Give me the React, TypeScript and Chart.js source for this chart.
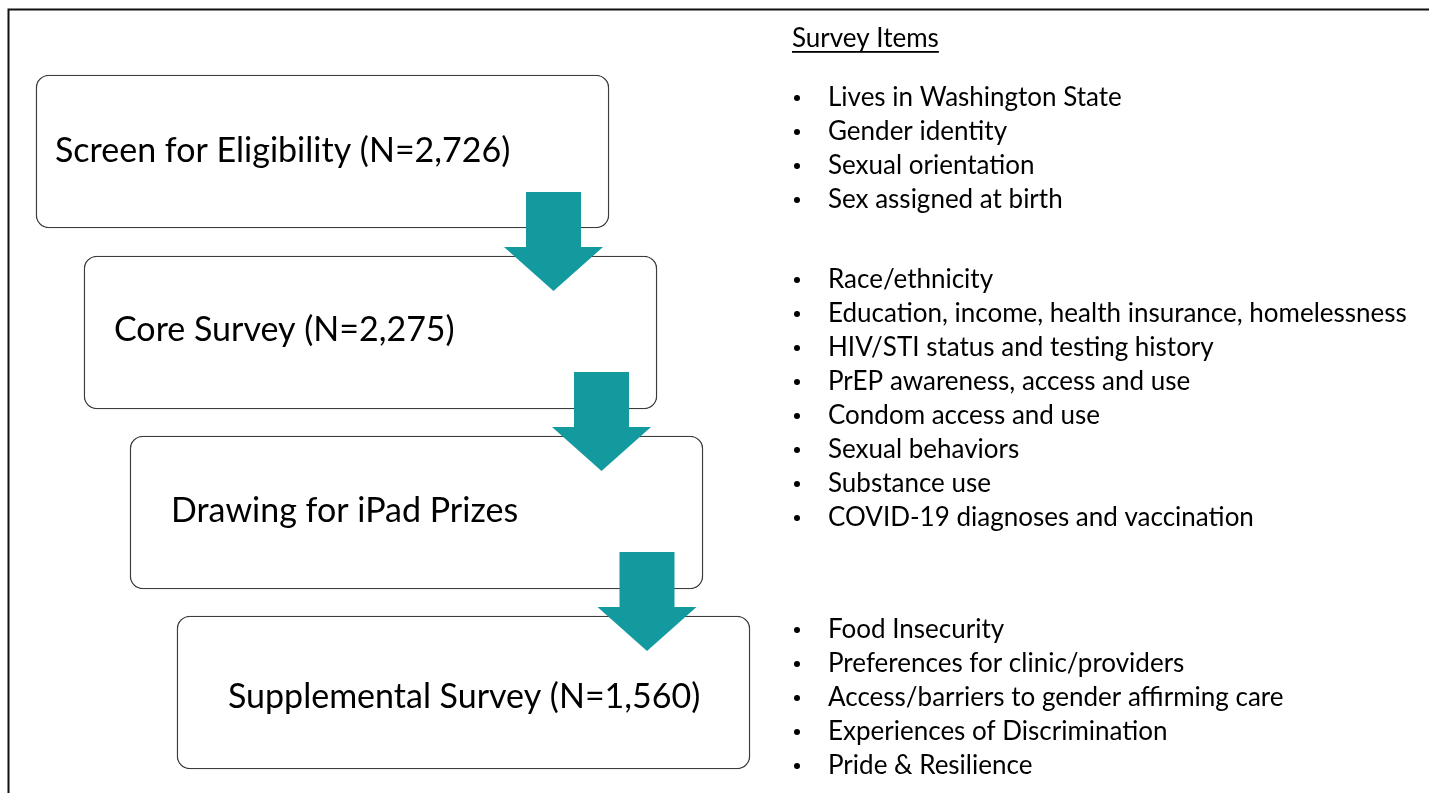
import React, { useEffect, useRef } from "react";
import { Chart, registerables } from "chart.js";

Chart.register(...registerables);

// ---- content ----
const stepLabels = [
  "Screen for Eligibility (N=2,726)",
  "Core Survey (N=2,275)",
  "Drawing for iPad Prizes",
  "Supplemental Survey (N=1,560)",
];
const itemsTitle = "Survey Items";
const screenItems = [
  "Lives in Washington State",
  "Gender identity",
  "Sexual orientation",
  "Sex assigned at birth",
];
const coreItems = [
  "Race/ethnicity",
  "Education, income, health insurance, homelessness",
  "HIV/STI status and testing history",
  "PrEP awareness, access and use",
  "Condom access and use",
  "Sexual behaviors",
  "Substance use",
  "COVID-19 diagnoses and vaccination",
];
const supplementalItems = [
  "Food Insecurity",
  "Preferences for clinic/providers",
  "Access/barriers to gender affirming care",
  "Experiences of Discrimination",
  "Pride & Resilience",
];

// ---- layout (in the chart's own coordinate space) ----
const W = 1429;
const H = 793;
const boxSpans: [number, number][] = [
  [36, 609],
  [84, 657],
  [130, 703],
  [177, 750],
];
const boxCenters = [151.5, 332.5, 512.5, 692.5];
const labelX = [55, 114, 171, 228];
const labelBaseline = [162, 341, 522, 708];
const arrowX = [553.5, 601.5, 647];
const arrowTop = [192, 372, 552];
const itemGroups = [screenItems, coreItems, supplementalItems];
const itemGroupStart = [97, 279, 629];
const ITEM_STEP = 34;
const ITEM_X = 828;
const BULLET_X = 797;

const TEAL = "#139A9F";
const FONT = "Lato, 'Open Sans', sans-serif";

function drawScaledText(
  ctx: CanvasRenderingContext2D,
  text: string,
  x: number,
  y: number,
  sx: number
) {
  ctx.save();
  ctx.translate(x, y);
  ctx.scale(sx, 1);
  ctx.fillText(text, 0, 0);
  const w = ctx.measureText(text).width * sx;
  ctx.restore();
  return w;
}

const diagramPlugin = {
  id: "diagram",
  beforeDatasetsDraw(chart: any) {
    const { ctx, scales } = chart;
    const px = (v: number) => scales.x.getPixelForValue(v);
    const py = (v: number) => scales.y.getPixelForValue(v);
    ctx.save();
    ctx.strokeStyle = "#111";
    ctx.lineWidth = 2;
    ctx.beginPath();
    ctx.moveTo(px(W) + 20, py(9.5));
    ctx.lineTo(px(8.5), py(9.5));
    ctx.lineTo(px(8.5), py(H) + 20);
    ctx.stroke();
    ctx.restore();
  },
  afterDatasetsDraw(chart: any) {
    const { ctx, scales } = chart;
    const px = (v: number) => scales.x.getPixelForValue(v);
    const py = (v: number) => scales.y.getPixelForValue(v);
    ctx.save();

    // arrows
    ctx.fillStyle = TEAL;
    arrowX.forEach((cx, i) => {
      const top = arrowTop[i];
      const base = top + 55;
      const tip = top + 99;
      ctx.beginPath();
      ctx.moveTo(px(cx - 27.5), py(top));
      ctx.lineTo(px(cx + 27.5), py(top));
      ctx.lineTo(px(cx + 27.5), py(base));
      ctx.lineTo(px(cx + 49.5), py(base));
      ctx.lineTo(px(cx), py(tip));
      ctx.lineTo(px(cx - 49.5), py(base));
      ctx.lineTo(px(cx - 27.5), py(base));
      ctx.closePath();
      ctx.fill();
    });

    // box labels
    ctx.fillStyle = "#000";
    ctx.textBaseline = "alphabetic";
    ctx.textAlign = "left";
    ctx.font = `34px ${FONT}`;
    stepLabels.forEach((t, i) => {
      drawScaledText(ctx, t, px(labelX[i]), py(labelBaseline[i]), 1.0);
    });

    // title
    ctx.font = `26px ${FONT}`;
    const tw = drawScaledText(ctx, itemsTitle, px(792), py(47), 1.0);
    ctx.fillRect(px(792), py(51), tw, 1.8);

    // items
    ctx.font = `26px ${FONT}`;
    itemGroups.forEach((items, g) => {
      items.forEach((t, k) => {
        const cy = itemGroupStart[g] + k * ITEM_STEP;
        ctx.beginPath();
        ctx.arc(px(BULLET_X), py(cy + 1), 3, 0, Math.PI * 2);
        ctx.fill();
        drawScaledText(ctx, t, px(ITEM_X), py(cy + 8.5), 1.0);
      });
    });
    ctx.restore();
  },
};

export default function App() {
  const canvasRef = useRef<HTMLCanvasElement>(null);

  useEffect(() => {
    if (!canvasRef.current) return;
    const chart = new Chart(canvasRef.current, {
      type: "bar",
      data: {
        datasets: [
          {
            label: "Steps",
            data: stepLabels.map((_, i) => ({ x: boxSpans[i], y: boxCenters[i] })) as any,
            backgroundColor: "#ffffff",
            borderColor: "#3c3c3c",
            borderWidth: 1.4,
            borderRadius: 13,
            borderSkipped: false,
            barThickness: 153,
          },
        ],
      },
      options: {
        indexAxis: "y",
        animation: false,
        responsive: false,
        layout: { padding: 0 },
        scales: {
          x: { type: "linear", min: 0, max: W, display: false, offset: false },
          y: { type: "linear", min: 0, max: H, reverse: true, display: false, offset: false },
        },
        plugins: {
          legend: { display: false },
          tooltip: { enabled: false },
        },
      },
      plugins: [diagramPlugin],
    });
    return () => chart.destroy();
  }, []);

  return (
    <div style={{ position: "absolute", left: 0, top: 0, width: W, height: H, background: "#fff" }}>
      <canvas ref={canvasRef} width={W} height={H} style={{ display: "block" }} />
    </div>
  );
}
